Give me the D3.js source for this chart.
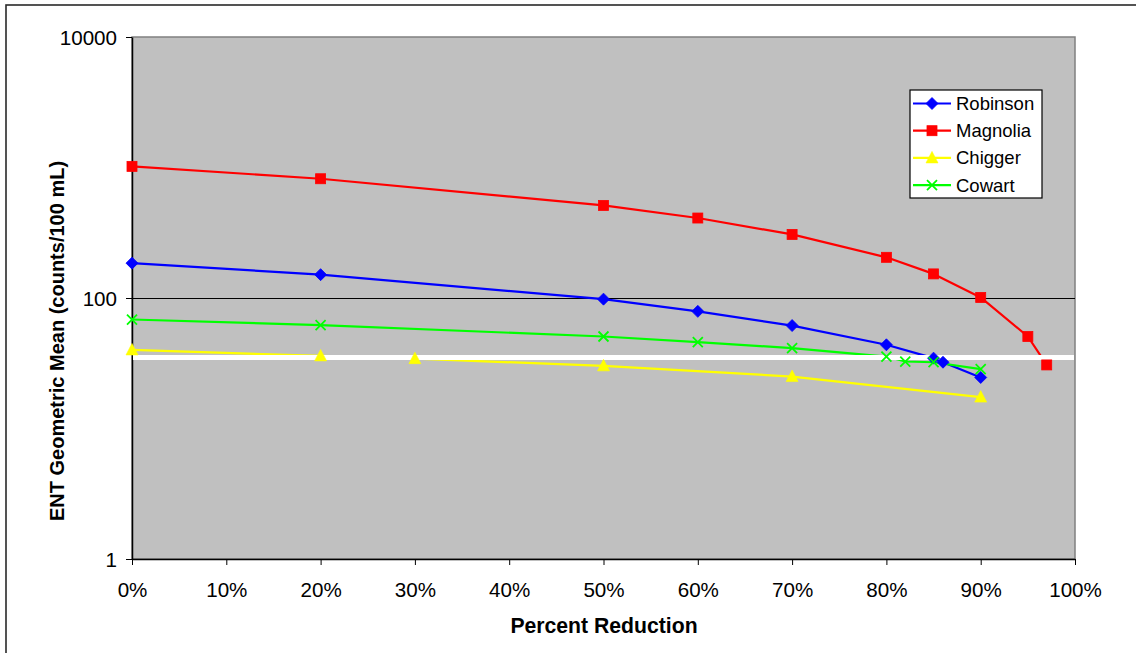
<!DOCTYPE html>
<html>
<head>
<meta charset="utf-8">
<script src="https://cdn.jsdelivr.net/npm/d3@7"></script>
<style>
  html, body { margin: 0; padding: 0; background: #fff; }
  svg { display: block; font-family: "Liberation Sans", Arial, sans-serif; }
</style>
</head>
<body>
<svg id="chart" width="1136" height="653"></svg>
<script>
// ---- data ----
const seriesNames = ["Robinson", "Magnolia", "Chigger", "Cowart"];
const robinsonX = [0, 20, 50, 60, 70, 80, 85, 86, 90];
const robinsonY = [185, 151, 98, 79, 61.5, 43.8, 34.6, 32.2, 24.6];
const magnoliaX = [0, 20, 50, 60, 70, 80, 85, 90, 95, 97];
const magnoliaY = [1020, 820, 512, 410, 307, 205, 153, 101, 50.7, 30.7];
const chiggerX = [0, 20, 30, 50, 70, 90];
const chiggerY = [40, 36, 34.3, 30.2, 25, 17.4];
const cowartX = [0, 20, 50, 60, 70, 80, 82, 85, 90];
const cowartY = [68.4, 62, 50.7, 45.9, 41.3, 35.6, 32.6, 32.2, 28.5];
const standardValue = 35;
const xTicks = [0, 10, 20, 30, 40, 50, 60, 70, 80, 90, 100];
const yTicks = [1, 100, 10000];
const xTitle = "Percent Reduction";
const yTitle = "ENT Geometric Mean (counts/100 mL)";

// ---- setup ----
const svg = d3.select("#chart");
const L = 132, R = 1075, T = 37, B = 559;
const x = d3.scaleLinear().domain([0, 100]).range([L, R]);
const y = d3.scaleLog().domain([1, 10000]).range([B, T]);

const styles = {
  Robinson: { color: "#0000FF", marker: "diamond" },
  Magnolia: { color: "#FF0000", marker: "square" },
  Chigger:  { color: "#FFFF00", marker: "triangle" },
  Cowart:   { color: "#00FF00", marker: "x" }
};
const series = [
  { name: "Robinson", xs: robinsonX, ys: robinsonY },
  { name: "Magnolia", xs: magnoliaX, ys: magnoliaY },
  { name: "Chigger",  xs: chiggerX,  ys: chiggerY },
  { name: "Cowart",   xs: cowartX,   ys: cowartY }
].map(s => ({ ...s, pts: s.xs.map((v, i) => [v, s.ys[i]]) }));

// outer chart frame
svg.append("rect").attr("x", 6).attr("y", 5).attr("width", 1200).attr("height", 700)
  .attr("fill", "#fff").attr("stroke", "#2a2a2a").attr("stroke-width", 1.6);

// plot area
svg.append("rect").attr("x", L).attr("y", T).attr("width", R - L).attr("height", B - T)
  .attr("fill", "#C0C0C0").attr("stroke", "#808080").attr("stroke-width", 1.5);

// gridline at 100
svg.append("line").attr("x1", L).attr("x2", R).attr("y1", y(100)).attr("y2", y(100))
  .attr("stroke", "#000").attr("stroke-width", 1).attr("shape-rendering", "crispEdges");

// axes
const fontSize = 20.6;
const yAxis = svg.append("g").attr("transform", `translate(${L},0)`)
  .call(d3.axisLeft(y).tickValues(yTicks).tickFormat(d3.format("d"))
    .tickSize(6).tickSizeOuter(0).tickPadding(9));
const xAxis = svg.append("g").attr("transform", `translate(0,${B})`)
  .call(d3.axisBottom(x).tickValues(xTicks).tickFormat(d => d + "%")
    .tickSize(6).tickSizeOuter(0).tickPadding(17.6));
[xAxis, yAxis].forEach(a => {
  a.selectAll("text").attr("font-size", fontSize).attr("fill", "#000")
    .attr("font-family", "'Liberation Sans', Arial, sans-serif");
  a.selectAll("line").attr("stroke", "#000");
  a.select(".domain").attr("stroke", "#000").attr("stroke-width", 1.5);
});
yAxis.selectAll("text").attr("dy", "0.35em");

// titles
svg.append("text").attr("x", (L + R) / 2 + 0.5).attr("y", 633).attr("text-anchor", "middle")
  .attr("font-size", 21.2).attr("font-weight", "bold").text(xTitle);
svg.append("text").attr("transform", "translate(64,341) rotate(-90)").attr("text-anchor", "middle")
  .attr("font-size", 20).attr("font-weight", "bold").text(yTitle);

// lines
const line = d3.line().x(d => x(d[0])).y(d => y(d[1]));
const plot = svg.append("g");
plot.selectAll("path.series").data(series).join("path").attr("class", "series")
  .attr("d", d => line(d.pts)).attr("fill", "none")
  .attr("stroke", d => styles[d.name].color).attr("stroke-width", 2.2)
  .attr("stroke-linejoin", "round");

// white standard line
svg.append("line").attr("x1", L + 1).attr("x2", R - 1)
  .attr("y1", y(standardValue)).attr("y2", y(standardValue))
  .attr("stroke", "#fff").attr("stroke-width", 5);

// markers
function drawMarker(g, type, color, cx, cy) {
  if (type === "diamond") {
    g.append("path").attr("d", `M${cx},${cy - 6}L${cx + 6},${cy}L${cx},${cy + 6}L${cx - 6},${cy}Z`)
      .attr("fill", color).attr("stroke", color).attr("stroke-width", 0.8);
  } else if (type === "square") {
    g.append("rect").attr("x", cx - 5).attr("y", cy - 5).attr("width", 10).attr("height", 10)
      .attr("fill", color).attr("stroke", color).attr("stroke-width", 0.8);
  } else if (type === "triangle") {
    g.append("path").attr("d", `M${cx},${cy - 6.5}L${cx + 6},${cy + 5}L${cx - 6},${cy + 5}Z`)
      .attr("fill", color).attr("stroke", color).attr("stroke-width", 0.6);
  } else if (type === "x") {
    g.append("path").attr("d", `M${cx - 5},${cy - 5}L${cx + 5},${cy + 5}M${cx - 5},${cy + 5}L${cx + 5},${cy - 5}`)
      .attr("stroke", color).attr("stroke-width", 1.8).attr("fill", "none");
  }
}
const mk = svg.append("g");
series.forEach(s => {
  s.pts.forEach(p => drawMarker(mk, styles[s.name].marker, styles[s.name].color, x(p[0]), y(p[1])));
});

// legend
const lg = svg.append("g");
lg.append("rect").attr("x", 910).attr("y", 90).attr("width", 132).attr("height", 108)
  .attr("fill", "#fff").attr("stroke", "#000").attr("stroke-width", 1.2);
seriesNames.forEach((n, i) => {
  const cy = 103.5 + i * 27.2;
  const c = styles[n].color;
  lg.append("line").attr("x1", 913).attr("x2", 951).attr("y1", cy).attr("y2", cy)
    .attr("stroke", c).attr("stroke-width", 2.2);
  drawMarker(lg, styles[n].marker, c, 932, cy);
  lg.append("text").attr("x", 956).attr("y", cy).attr("dy", "0.35em")
    .attr("font-size", 18.5).attr("fill", "#000").text(n);
});
</script>
</body>
</html>
